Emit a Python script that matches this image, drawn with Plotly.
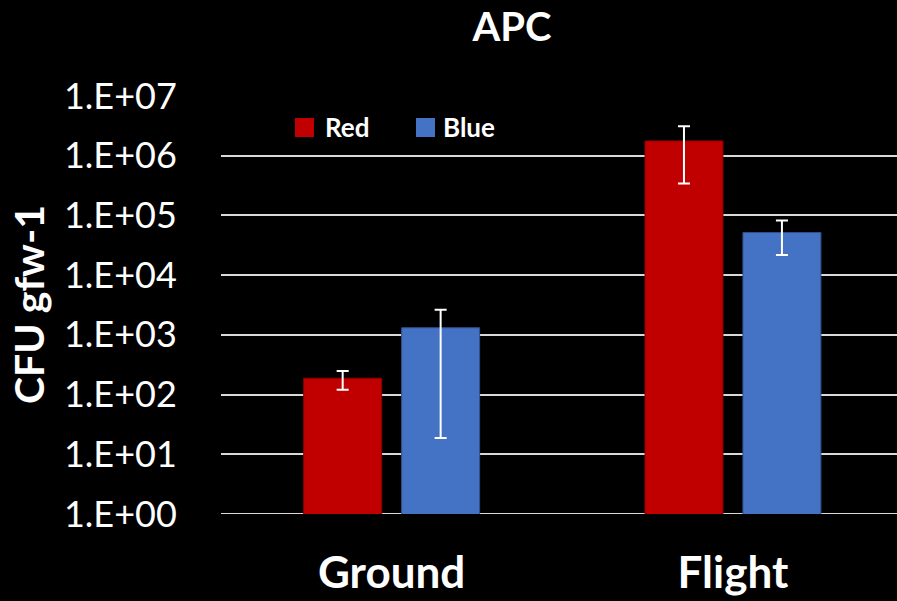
import plotly.graph_objects as go

# ---- data ----
categories = ["Ground", "Flight"]
series_names = ["Red", "Blue"]
red_mean = [188, 1.77e6]
red_upper = [247, 3.11e6]
red_lower = [120, 3.44e5]
blue_mean = [1315, 5.17e4]
blue_upper = [2640, 8.2e4]
blue_lower = [18.7, 2.18e4]
tick_values = [1, 10, 100, 1e3, 1e4, 1e5, 1e6, 1e7]
tick_labels = ["1.E+00", "1.E+01", "1.E+02", "1.E+03",
               "1.E+04", "1.E+05", "1.E+06", "1.E+07"]

RED = "#C00000"
BLUE = "#4472C4"
GRID = "#D9D9D9"
FONT = "Lato"

W, H = 897, 601
ML, MR, MT, MB = 221, 0, 96, 87
PW, PH = W - ML - MR, H - MT - MB


def px_x(x):
    return (x - ML) / PW


def px_y(y):
    return (H - MB - y) / PH


def err_bar(mean, upper, lower):
    return dict(type="data", symmetric=False,
                array=[u - m for u, m in zip(upper, mean)],
                arrayminus=[m - l for m, l in zip(mean, lower)],
                color="white", thickness=2, width=6)


fig = go.Figure()

# baseline at 1.E+00
fig.add_shape(type="line", xref="paper", yref="y", x0=0, x1=1,
              y0=tick_values[0], y1=tick_values[0],
              line=dict(color=GRID, width=2), layer="below")

fig.add_trace(go.Bar(
    x=categories, y=red_mean, name=series_names[0],
    marker=dict(color=RED, line=dict(color="#8E0000", width=1)),
    error_y=err_bar(red_mean, red_upper, red_lower), showlegend=False))
fig.add_trace(go.Bar(
    x=categories, y=blue_mean, name=series_names[1],
    marker=dict(color=BLUE, line=dict(color="#2F528F", width=1)),
    error_y=err_bar(blue_mean, blue_upper, blue_lower), showlegend=False))

# legend drawn as swatches + labels inside the plot area
legend_items = [(series_names[0], RED, 295, 323), (series_names[1], BLUE, 416, 441)]
for name, color, sx, tx in legend_items:
    fig.add_shape(type="rect", xref="paper", yref="paper",
                  x0=px_x(sx), x1=px_x(sx + 19), y0=px_y(137), y1=px_y(118),
                  fillcolor=color, line=dict(width=0))
    fig.add_annotation(xref="paper", yref="paper", x=px_x(tx), y=px_y(127),
                       text=name, showarrow=False, xanchor="left", yanchor="middle",
                       font=dict(family=FONT, size=26, color="white", weight="bold"))

# y-axis title
fig.add_annotation(xref="paper", yref="paper", x=px_x(28), y=0.5,
                   text="CFU gfw-1", textangle=-90, showarrow=False,
                   xanchor="center", yanchor="middle",
                   font=dict(family=FONT, size=41, color="white", weight="bold"))

fig.update_layout(
    width=W, height=H,
    margin=dict(l=ML, r=MR, t=MT, b=MB, autoexpand=False),
    paper_bgcolor="black", plot_bgcolor="black",
    barmode="group", bargap=0.426, bargroupgap=0.204,
    title=dict(text="APC", x=512 / W, xanchor="center", y=1 - 27 / H, yanchor="middle",
               font=dict(family=FONT, size=40, color="white", weight="bold")),
    xaxis=dict(range=[-0.5, -0.5 + PW / 341.3], showgrid=False, zeroline=False,
               showline=False, ticks="outside", ticklen=20, tickcolor="rgba(0,0,0,0)",
               automargin=False,
               tickfont=dict(family=FONT, size=44, color="white", weight="bold")),
    yaxis=dict(type="log", range=[0, 7], tickvals=tick_values, ticktext=tick_labels,
               showgrid=True, gridcolor=GRID, gridwidth=1.5, zeroline=False,
               showline=False, ticks="outside", ticklen=36, tickcolor="rgba(0,0,0,0)",
               automargin=False,
               tickfont=dict(family=FONT, size=36, color="white")),
)

fig.write_html("out.html")
